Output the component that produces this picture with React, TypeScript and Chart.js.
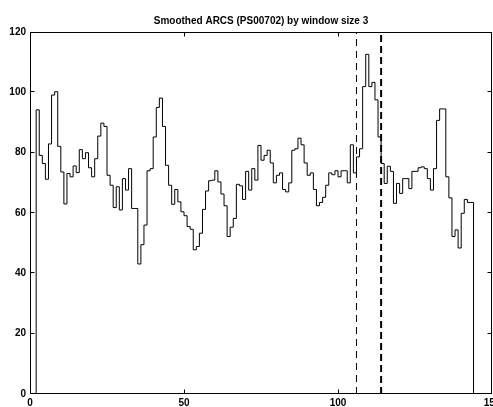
import React, { useEffect, useRef } from 'react';
import { Chart, registerables } from 'chart.js';

Chart.register(...registerables);

const TITLE = 'Smoothed ARCS (PS00702) by window size 3';

// Residue index of the first value in the smoothed profile
const FIRST_RESIDUE = 1;

// Smoothed ARCS score per residue (residues 1..144), drawn as stairs
const smoothedScores: number[] = [
  0,
  94.2, 79.1, 76.4, 71.2, 82.9, 99.1, 100.2, 82.1, 73.6, 63.0,
  73.1, 72.0, 75.6, 73.4, 81.0, 78.0, 80.0, 75.0, 72.0, 78.0,
  85.5, 89.8, 88.7,
  72.5, 69.2, 61.8, 68.7, 61.0, 71.4, 67.6, 74.7, 61.5, 61.5,
  43.1, 49.5, 56.0, 74.0, 74.7, 85.2, 95.0, 98.1, 88.7, 75.8,
  69.2, 62.9, 67.8, 63.7, 60.4, 59.1,
  55.5, 54.6, 47.8, 48.9, 53.3, 61.2, 67.3, 70.7, 70.9, 74.0,
  70.3, 66.3, 62.4, 52.2, 55.3, 58.2, 69.5, 69.0, 64.5, 73.8,
  67.6, 74.7, 70.9, 82.4, 77.5,
  79.1, 80.8, 76.6, 70.0, 72.5, 73.3, 67.8, 67.0, 70.0, 80.8,
  81.3, 84.8, 82.6, 76.6, 72.5, 73.3, 67.8, 62.4, 63.5, 65.2,
  69.2, 73.3, 72.7, 74.0, 72.0, 74.0, 74.0, 70.0, 82.6, 73.3,
  78.6, 81.3, 101.9, 112.6, 101.9, 103.3, 97.5, 85.2,
  76.4, 69.8, 75.5, 73.8, 63.2, 69.8, 66.5, 71.4, 71.4, 68.1,
  73.8, 73.8, 75.0, 75.3, 74.7, 71.4, 67.6, 74.7, 90.7, 94.5,
  94.5, 72.0, 65.0, 52.2, 54.4, 48.4, 59.9, 64.5, 63.5, 63.5,
  0,
];

// Motif boundaries marked with dashed vertical lines
const motifStart = 106;
const motifEnd = 114;

// Axis ranges / tick steps
const X_MIN = 0;
const X_MAX = 150;
const X_STEP = 50;
const Y_MIN = 0;
const Y_MAX = 120;
const Y_STEP = 20;

const FONT = { family: '"Liberation Sans", Arial, Helvetica, sans-serif', size: 10, weight: 'bold' as const };

const framePlugin = {
  id: 'matlabFrame',
  afterDraw(chart: any) {
    const { ctx, chartArea } = chart;
    const { left, right, top, bottom } = chartArea;
    const xs = chart.scales.x;
    const ys = chart.scales.y;
    const tl = 4.5;
    ctx.save();
    ctx.strokeStyle = '#000';
    ctx.lineWidth = 1;
    ctx.beginPath();
    ctx.rect(left + 0.5, top + 0.5, right - left - 1, bottom - top - 1);
    const clampX = (v: number) => Math.min(Math.max(v, left + 0.5), right - 0.5);
    const clampY = (v: number) => Math.min(Math.max(v, top + 0.5), bottom - 0.5);
    xs.ticks.forEach((t: any) => {
      const px = clampX(Math.round(xs.getPixelForValue(t.value)) + 0.5);
      ctx.moveTo(px, bottom);
      ctx.lineTo(px, bottom - tl);
      ctx.moveTo(px, top);
      ctx.lineTo(px, top + tl);
    });
    ys.ticks.forEach((t: any) => {
      const py = clampY(Math.round(ys.getPixelForValue(t.value)) - 0.5);
      ctx.moveTo(left, py);
      ctx.lineTo(left + tl, py);
      ctx.moveTo(right, py);
      ctx.lineTo(right - tl, py);
    });
    ctx.stroke();
    ctx.restore();
  },
};

export default function App() {
  const canvasRef = useRef<HTMLCanvasElement | null>(null);

  useEffect(() => {
    const canvas = canvasRef.current;
    if (!canvas) return;
    const points = smoothedScores.map((v, i) => ({ x: FIRST_RESIDUE + i, y: v }));
    const chart = new Chart(canvas, {
      type: 'line',
      data: {
        datasets: [
          {
            data: points,
            stepped: true,
            borderColor: '#000',
            borderWidth: 1,
            pointRadius: 0,
            fill: false,
            tension: 0,
          },
          {
            data: [
              { x: motifStart, y: Y_MIN },
              { x: motifStart, y: Y_MAX },
            ],
            borderColor: '#000',
            borderWidth: 1,
            borderDash: [7, 5],
            pointRadius: 0,
            fill: false,
          },
          {
            data: [
              { x: motifEnd, y: Y_MIN },
              { x: motifEnd, y: Y_MAX },
            ],
            borderColor: '#000',
            borderWidth: 2,
            borderDash: [7, 4],
            pointRadius: 0,
            fill: false,
          },
        ],
      },
      options: {
        animation: false,
        responsive: false,
        devicePixelRatio: 1,
        events: [],
        layout: { padding: { top: 0, left: 0, right: 1, bottom: 0 } },
        plugins: {
          legend: { display: false },
          tooltip: { enabled: false },
          title: {
            display: true,
            text: TITLE,
            color: '#000',
            font: FONT,
            fullSize: false,
            padding: { top: 15, bottom: 5 },
          },
        },
        scales: {
          x: {
            type: 'linear',
            min: X_MIN,
            max: X_MAX,
            grid: { display: false, drawTicks: false },
            border: { display: false },
            ticks: {
              stepSize: X_STEP,
              color: '#000',
              font: FONT,
              padding: 3,
              maxRotation: 0,
              autoSkip: false,
            },
            afterFit(scale: any) {
              scale.height = 13;
              scale.paddingLeft = 0;
              scale.paddingRight = 0;
            },
          },
          y: {
            type: 'linear',
            min: Y_MIN,
            max: Y_MAX,
            grid: { display: false, drawTicks: false },
            border: { display: false },
            ticks: {
              stepSize: Y_STEP,
              color: '#000',
              font: FONT,
              padding: 4,
            },
            afterFit(scale: any) {
              scale.width = 30;
              scale.paddingTop = 0;
              scale.paddingBottom = 0;
            },
          },
        },
      },
      plugins: [framePlugin],
    } as any);
    return () => chart.destroy();
  }, []);

  return (
    <div style={{ position: 'absolute', left: 0, top: 0, width: 493, height: 407, background: '#fff' }}>
      <canvas ref={canvasRef} width={493} height={407} style={{ display: 'block' }} />
    </div>
  );
}
